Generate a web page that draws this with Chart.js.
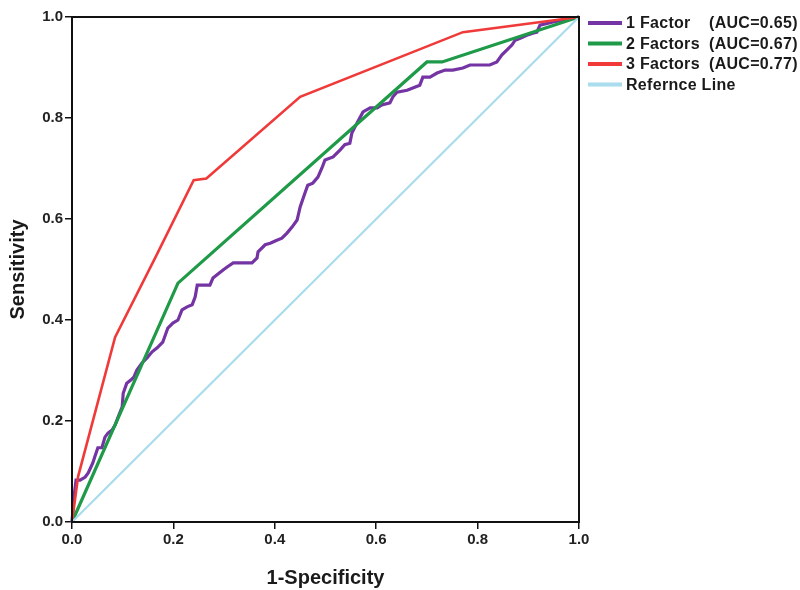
<!DOCTYPE html>
<html>
<head>
<meta charset="utf-8">
<script src="https://cdn.jsdelivr.net/npm/chart.js@4/dist/chart.umd.min.js"></script>
<style>
html,body{margin:0;padding:0;background:#fff;}
#wrap{width:800px;height:590px;position:relative;}
</style>
</head>
<body>
<div id="wrap"><canvas id="c" width="800" height="590"></canvas></div>
<script>
// ---- data ----
const seriesNames = ["1 Factor", "2 Factors", "3 Factors", "Refernce Line"];
const seriesAUC = ["(AUC=0.65)", "(AUC=0.67)", "(AUC=0.77)", ""];
const tickValues = [0.0, 0.2, 0.4, 0.6, 0.8, 1.0];

const factor1X = [0,0.004,0.008,0.016,0.026,0.032,0.041,0.045,0.051,0.059,0.065,0.071,0.079,0.085,0.091,0.099,0.101,0.108,0.116,0.122,0.128,0.138,0.148,0.158,0.168,0.179,0.189,0.199,0.209,0.217,0.227,0.237,0.243,0.247,0.272,0.278,0.298,0.306,0.318,0.355,0.365,0.367,0.381,0.391,0.404,0.414,0.424,0.434,0.444,0.450,0.460,0.465,0.475,0.485,0.493,0.499,0.515,0.529,0.538,0.548,0.552,0.558,0.574,0.588,0.602,0.611,0.627,0.633,0.641,0.661,0.686,0.692,0.706,0.720,0.736,0.751,0.771,0.785,0.824,0.838,0.848,0.858,0.868,0.874,0.884,0.897,0.909,0.917,0.923,0.949,1];
const factor1Y = [0,0.050,0.083,0.083,0.089,0.097,0.117,0.129,0.147,0.147,0.168,0.176,0.182,0.192,0.208,0.228,0.255,0.275,0.281,0.287,0.301,0.315,0.325,0.337,0.345,0.356,0.384,0.394,0.400,0.420,0.426,0.430,0.446,0.469,0.469,0.483,0.499,0.505,0.513,0.513,0.523,0.535,0.549,0.552,0.558,0.562,0.572,0.584,0.598,0.624,0.653,0.667,0.671,0.683,0.701,0.717,0.723,0.737,0.747,0.750,0.770,0.782,0.812,0.820,0.820,0.826,0.830,0.842,0.851,0.855,0.865,0.881,0.881,0.889,0.895,0.895,0.899,0.905,0.905,0.911,0.925,0.935,0.945,0.954,0.958,0.964,0.968,0.970,0.984,0.990,1];

const factor2X = [0, 0.209, 0.700, 0.730, 1];
const factor2Y = [0, 0.473, 0.911, 0.911, 1];

const factor3X = [0, 0.012, 0.085, 0.165, 0.240, 0.265, 0.450, 0.771, 1];
const factor3Y = [0, 0.090, 0.366, 0.525, 0.677, 0.680, 0.842, 0.970, 1];

const refX = [0, 1];
const refY = [0, 1];

const colors = ["#7434A4", "#1E9A48", "#F03A3A", "#A9DCEC"];
const widths = [3.2, 3.2, 2.6, 2.2];

function pts(xs, ys){ return xs.map((x,i)=>({x:x, y:ys[i]})); }

const FONT = "'Liberation Sans', Arial, sans-serif";

const framePlugin = {
  id: 'frame',
  afterDraw(chart){
    const ctx = chart.ctx, a = chart.chartArea;
    ctx.save();
    ctx.strokeStyle = '#111';
    ctx.lineWidth = 2;
    ctx.strokeRect(a.left, a.top, a.right - a.left, a.bottom - a.top);
    ctx.restore();
  }
};

const legendPlugin = {
  id: 'customLegend',
  afterDraw(chart){
    const ctx = chart.ctx;
    ctx.save();
    ctx.font = "bold 16px " + FONT;
    ctx.fillStyle = '#1a1a1a';
    ctx.textBaseline = 'middle';
    try { ctx.letterSpacing = '0.3px'; } catch(e){}
    const x0 = 588, y0 = 23, dy = 20.5;
    chart.data.datasets.forEach((ds, i) => {
      const y = y0 + i*dy;
      ctx.strokeStyle = ds.borderColor;
      ctx.lineWidth = 4;
      ctx.beginPath();
      ctx.moveTo(x0, y);
      ctx.lineTo(x0 + 34, y);
      ctx.stroke();
      ctx.fillText(seriesNames[i], x0 + 38, y + 1);
      if (seriesAUC[i]) ctx.fillText(seriesAUC[i], 709, y + 1);
    });
    ctx.restore();
  }
};

const datasets = [
  {label: seriesNames[0], data: pts(factor1X, factor1Y)},
  {label: seriesNames[1], data: pts(factor2X, factor2Y)},
  {label: seriesNames[2], data: pts(factor3X, factor3Y)},
  {label: seriesNames[3], data: pts(refX, refY)}
].map((d,i)=>Object.assign(d, {
  showLine: true, borderColor: colors[i], backgroundColor: colors[i],
  borderWidth: widths[i], pointRadius: 0, pointHoverRadius: 0, tension: 0,
  order: 3 - i, clip: false
}));

const tickFont = {family: FONT, size: 15, weight: 'bold'};
const titleFont = {family: FONT, size: 20, weight: 'bold'};

new Chart(document.getElementById('c'), {
  type: 'scatter',
  data: {datasets},
  options: {
    responsive: false,
    animation: false,
    devicePixelRatio: 1,
    layout: {padding: {left: 0, top: 17, right: 221, bottom: 0}},
    plugins: {legend: {display: false}, tooltip: {enabled: false}},
    scales: {
      x: {
        type: 'linear', min: 0, max: 1,
        afterBuildTicks: s => { s.ticks = tickValues.map(v => ({value: v})); },
        afterFit: s => { s.height = 68; },
        ticks: {font: tickFont, color: '#222', padding: 2, callback: v => v.toFixed(1), maxRotation: 0},
        grid: {display: true, drawOnChartArea: false, drawTicks: true, tickLength: 7, color: '#111', lineWidth: 1.5},
        border: {display: true, color: '#111', width: 2},
        title: {display: true, text: '1-Specificity', font: titleFont, color: '#1a1a1a', padding: {top: 4, bottom: 0}}
      },
      y: {
        type: 'linear', min: 0, max: 1,
        afterBuildTicks: s => { s.ticks = tickValues.map(v => ({value: v})); },
        afterFit: s => { s.width = 72; },
        ticks: {font: tickFont, color: '#222', padding: 2, callback: v => v.toFixed(1)},
        grid: {display: true, drawOnChartArea: false, drawTicks: true, tickLength: 7, color: '#111', lineWidth: 1.5},
        border: {display: true, color: '#111', width: 2},
        title: {display: true, text: 'Sensitivity', font: titleFont, color: '#1a1a1a', padding: {top: 6, bottom: 4}}
      }
    }
  },
  plugins: [framePlugin, legendPlugin]
});
</script>
</body>
</html>
